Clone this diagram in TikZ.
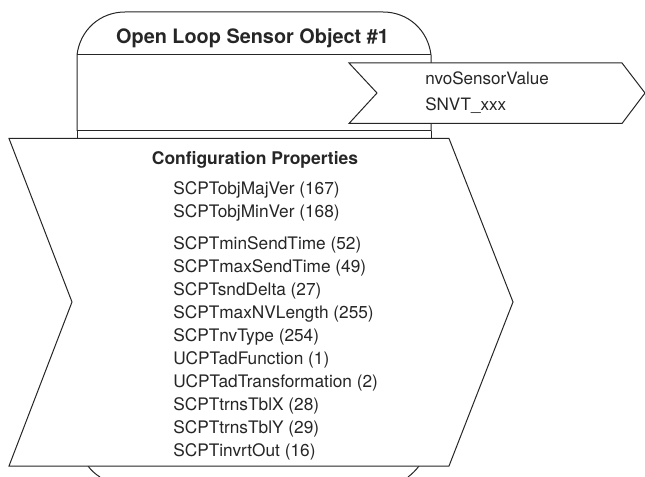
\documentclass[tikz,border=0pt]{standalone}
\usepackage{fontspec}
\setmainfont{TeX Gyre Heros}
\tikzset{
  px/.style={x=0.75pt,y=-0.75pt},
  ln/.style={draw=black!85,line width=0.75pt,line join=miter},
  tag/.style={ln,fill=white},
  prop/.style={anchor=base west,inner sep=0pt,font=\fontsize{12.95pt}{15pt}\selectfont,text=black!85},
  bold/.style={anchor=base,inner sep=0pt,text=black!85},
}
\begin{document}
\begin{tikzpicture}[px]
\useasboundingbox (0,0) rectangle (645,477);
% body
\draw[ln] (77,131) -- (77,55) .. controls (80,30) and (100,12) .. (125,12) -- (383,12) .. controls (408,12) and (428,30) .. (431,55) -- (431,131);
\draw[ln] (77,55) -- (431,55);
\draw[ln] (77,131) -- (431,131);
\draw[ln] (77,131) -- (77,138);
\draw[ln] (431,131) -- (431,138);
\draw[ln] (88,466) .. controls (91,470) and (95,474) .. (100,477);
\draw[ln] (419,466) .. controls (416,470) and (412,474) .. (408,477);
% output tag
\draw[tag] (349,63) -- (622,63) -- (645,93) -- (622,123.5) -- (349,123.5) -- (377,93) -- cycle;
\node[prop,font=\fontsize{12.8pt}{15pt}\selectfont] (nv) at (425,85) {nvoSensorValue};
\node[prop,font=\fontsize{12.8pt}{15pt}\selectfont] (sn) at (425,111) {SNVT\_xxx};
% config tag
\draw[tag] (9,138.5) -- (449,138.5) -- (513,302) -- (449,466) -- (9,466) -- (72,302) -- cycle;
% texts
\node[bold,font=\fontsize{14.9pt}{18pt}\selectfont\bfseries] (title) at (252.5,44) {Open Loop Sensor Object \#1};
\node[bold,font=\fontsize{13.1pt}{15pt}\selectfont\bfseries] (cfg) at (255,165) {Configuration Properties};
\node[prop] (p1) at (173,195) {SCPTobjMajVer (167)};
\node[prop] (p2) at (173,218) {SCPTobjMinVer (168)};
\node[prop] (p3) at (173,249) {SCPTminSendTime (52)};
\node[prop] (p4) at (173,272) {SCPTmaxSendTime (49)};
\node[prop] (p5) at (173,295) {SCPTsndDelta (27)};
\node[prop] (p6) at (173,318) {SCPTmaxNVLength (255)};
\node[prop] (p7) at (173,341) {SCPTnvType (254)};
\node[prop] (p8) at (173,364) {UCPTadFunction (1)};
\node[prop] (p9) at (173,387) {UCPTadTransformation (2)};
\node[prop] (p10) at (173,410) {SCPTtrnsTblX (28)};
\node[prop] (p11) at (173,433) {SCPTtrnsTblY (29)};
\node[prop] (p12) at (173,456) {SCPTinvrtOut (16)};
\end{tikzpicture}
\end{document}
